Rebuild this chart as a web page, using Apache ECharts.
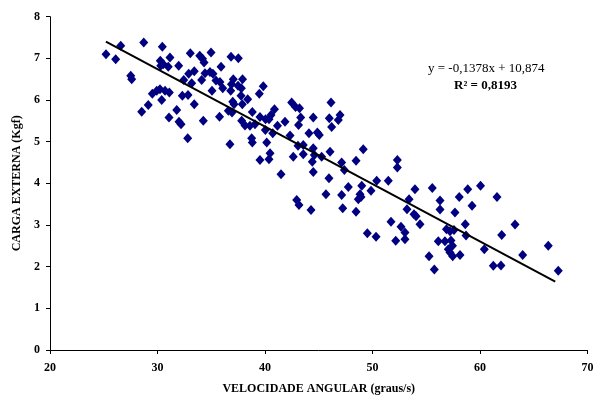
<!DOCTYPE html>
<html>
<head>
<meta charset="utf-8">
<script src="https://cdn.jsdelivr.net/npm/echarts@6/dist/echarts.min.js"></script>
<style>
html,body{margin:0;padding:0;background:#fff;}
#chart{width:597px;height:404px;}
</style>
</head>
<body>
<div id="chart"></div>
<script>
// Angular velocity (graus/s)
const velocidade = [
25.21,26.11,26.58,27.51,27.60,28.72,30.45,30.26,31.16,30.30,30.54,31.00,31.97,33.05,33.93,32.44,32.90,33.42,33.18,34.11,
29.52,29.93,30.23,30.70,31.10,30.39,32.31,32.84,33.42,29.14,28.53,31.07,31.79,32.00,32.19,32.81,34.26,34.19,34.33,34.98,
36.84,37.52,35.91,34.42,34.88,35.16,35.44,35.81,37.05,37.91,36.88,37.49,37.80,36.07,36.81,35.07,39.84,39.47,37.00,37.12,
37.77,38.39,37.89,36.59,36.93,35.77,38.82,40.88,42.48,42.84,43.21,46.14,39.53,40.05,40.37,40.56,43.32,44.49,45.98,46.98,
46.82,37.83,38.14,38.60,39.07,41.16,41.86,43.12,46.20,40.03,40.72,42.33,38.76,44.09,44.87,45.05,36.74,38.82,40.16,40.47,
40.37,39.53,41.49,42.63,43.07,43.56,43.56,44.49,44.59,44.40,45.27,46.05,49.14,47.13,47.38,48.47,44.49,45.95,52.31,52.31,
50.39,51.47,47.75,49.00,49.86,45.67,47.13,48.84,48.93,48.68,42.95,43.16,47.23,44.28,48.47,49.52,50.33,51.72,52.65,53.02,
53.02,52.16,53.95,55.56,53.40,56.28,56.28,53.21,53.86,54.05,54.42,58.07,58.86,60.05,59.26,57.67,58.63,58.70,56.88,57.21,
57.58,56.12,56.74,57.30,57.44,57.05,57.21,57.46,58.14,55.26,55.75,60.40,61.24,61.95,61.58,63.26,62.02,63.97,66.35,67.28
];
// External load (Kgf)
const carga = [
7.10,6.98,7.30,6.58,6.50,7.38,7.28,6.94,7.02,6.82,6.86,6.80,6.82,7.12,7.06,6.48,6.63,6.69,6.40,6.48,
6.15,6.22,6.26,6.22,6.18,6.00,6.10,6.12,5.90,5.88,5.72,5.58,5.76,5.48,5.42,5.08,5.50,6.99,6.90,7.14,
7.04,7.00,6.80,6.64,6.67,6.63,6.47,6.43,6.50,6.50,6.38,6.34,6.28,6.28,6.22,6.22,6.33,6.15,5.96,5.90,
6.10,6.02,5.90,5.74,5.70,5.60,5.71,5.78,5.94,5.83,5.80,5.94,5.59,5.54,5.54,5.64,5.58,5.58,5.56,5.64,
5.52,5.50,5.39,5.38,5.42,5.38,5.48,5.40,5.35,5.28,5.20,5.15,5.08,5.20,5.22,5.16,4.94,4.98,4.98,4.72,
4.58,4.56,4.22,4.64,4.90,4.92,4.70,4.84,4.68,4.52,4.64,4.76,4.82,4.50,4.32,4.54,4.27,4.12,4.56,4.38,
4.06,4.06,3.91,3.94,3.82,3.74,3.72,3.74,3.67,3.62,3.60,3.48,3.40,3.36,3.32,2.80,2.72,3.08,2.96,2.82,
2.66,2.62,3.86,3.89,3.62,3.59,3.37,3.38,3.26,3.21,3.02,3.67,3.86,3.94,3.46,3.30,3.02,2.75,2.90,2.85,
2.88,2.61,2.61,2.63,2.50,2.42,2.34,2.25,2.28,2.25,1.93,2.42,2.02,2.03,3.67,3.01,2.76,2.28,2.50,1.90
];
// Linear trend line (from the chart's equation)
const trendSlope = -0.1378;
const trendIntercept = 10.874;
const trendX = [25.2, 67.0];
const xTicks = [20, 30, 40, 50, 60, 70];
const yTicks = [0, 1, 2, 3, 4, 5, 6, 7, 8];
const equationText = 'y = -0,1378x + 10,874';
const r2Text = 'R² = 0,8193';

const points = velocidade.map((v, i) => [v, carga[i]]);
const trend = trendX.map(x => [x, trendSlope * x + trendIntercept]);

const serif = '"Liberation Serif","Times New Roman",serif';
const chart = echarts.init(document.getElementById('chart'), null, {renderer: 'canvas'});
chart.setOption({
  animation: false,
  backgroundColor: '#fff',
  grid: {left: 50, right: 9.5, top: 16.7, bottom: 54},
  xAxis: {
    type: 'value', min: xTicks[0], max: xTicks[xTicks.length - 1], interval: 10,
    name: 'VELOCIDADE ANGULAR (graus/s)', nameLocation: 'middle', nameGap: 33,
    nameTextStyle: {fontFamily: serif, fontWeight: 'bold', fontSize: 12, color: '#000'},
    axisLine: {lineStyle: {color: '#000', width: 1}},
    axisTick: {show: true, length: 4, lineStyle: {color: '#000'}},
    axisLabel: {fontFamily: serif, fontWeight: 'bold', fontSize: 12, color: '#000', margin: 12},
    splitLine: {show: false}
  },
  yAxis: {
    type: 'value', min: yTicks[0], max: yTicks[yTicks.length - 1], interval: 1,
    name: 'CARGA EXTERNA (Kgf)', nameLocation: 'middle', nameGap: 25,
    nameTextStyle: {fontFamily: serif, fontWeight: 'bold', fontSize: 12, color: '#000'},
    axisLine: {show: true, lineStyle: {color: '#000', width: 1}},
    axisTick: {show: true, length: 4, lineStyle: {color: '#000'}},
    axisLabel: {fontFamily: serif, fontWeight: 'bold', fontSize: 12, color: '#000', margin: 10},
    splitLine: {show: false}
  },
  series: [
    {
      type: 'scatter', data: points, symbol: 'diamond', symbolSize: [9, 10],
      itemStyle: {color: '#000080', opacity: 1}, z: 2
    },
    {
      type: 'line', data: trend, symbol: 'none', showSymbol: false,
      lineStyle: {color: '#000', width: 2}, z: 3
    }
  ],
  graphic: [
    {type: 'text', left: 428, top: 62, style: {text: equationText, font: '13px ' + serif, fill: '#000'}},
    {type: 'text', left: 454, top: 79, style: {text: r2Text, font: 'bold 13px ' + serif, fill: '#000'}}
  ]
});
</script>
</body>
</html>
